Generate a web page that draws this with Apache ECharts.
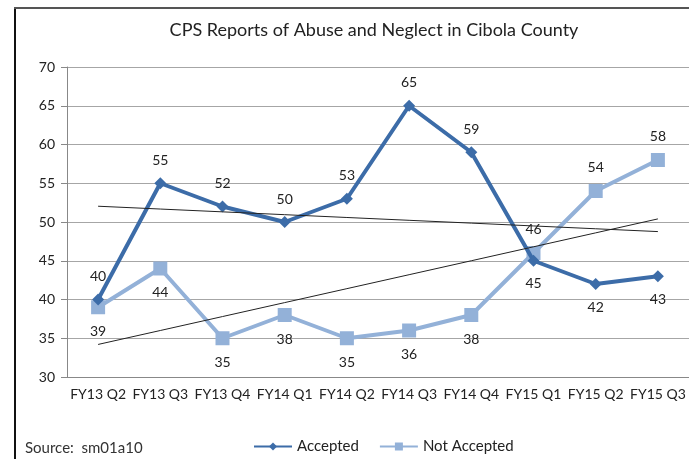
<!DOCTYPE html>
<html>
<head>
<meta charset="utf-8">
<script src="https://cdn.jsdelivr.net/npm/echarts@6/dist/echarts.min.js"></script>
<style>
  html, body { margin: 0; padding: 0; background: #fff; }
  #main { width: 689px; height: 459px; }
</style>
</head>
<body>
<div id="main"></div>
<script>
var quarters = ['FY13 Q2', 'FY13 Q3', 'FY13 Q4', 'FY14 Q1', 'FY14 Q2', 'FY14 Q3', 'FY14 Q4', 'FY15 Q1', 'FY15 Q2', 'FY15 Q3'];
var accepted = [40, 55, 52, 50, 53, 65, 59, 45, 42, 43];
var notAccepted = [39, 44, 35, 38, 35, 36, 38, 46, 54, 58];
// indexes where the label flips side
var acceptedBelow = [7, 8, 9];
var notAcceptedAbove = [7, 8, 9];

// least squares trend, like excel's linear trendline
function trend(arr) {
  var n = arr.length, sx = 0, sy = 0, sxy = 0, sxx = 0;
  for (var i = 0; i < n; i++) {
    sx += i; sy += arr[i]; sxy += i * arr[i]; sxx += i * i;
  }
  var b = (n * sxy - sx * sy) / (n * sxx - sx * sx);
  var a = (sy - b * sx) / n;
  return arr.map(function (v, i) { return +(a + b * i).toFixed(3); });
}

function withLabels(arr, flip, defPos) {
  return arr.map(function (v, i) {
    var pos = flip.indexOf(i) >= 0 ? (defPos === 'top' ? 'bottom' : 'top') : defPos;
    return { value: v, label: { position: pos } };
  });
}

var font = 'Lato, "Open Sans", sans-serif';
var chart = echarts.init(document.getElementById('main'));
var option = {
  animation: false,
  title: {
    text: 'CPS Reports of Abuse and Neglect in Cibola County',
    left: 369, top: 16, textAlign: 'center',
    textStyle: { fontFamily: font, fontSize: 18, fontWeight: 'normal', color: '#222' }
  },
  graphic: [
    { type: 'rect', shape: { x: 14, y: 7, width: 2, height: 460 }, style: { fill: '#111' } },
    { type: 'rect', shape: { x: 14, y: 7, width: 700, height: 2 }, style: { fill: '#555' } },
    { type: 'text', left: 25, top: 441, style: { text: 'Source:  sm01a10', font: '15px ' + font, fill: '#333' } }
  ],
  legend: {
    bottom: 0, left: 248, itemGap: 20, itemWidth: 38, itemHeight: 10,
    textStyle: { fontFamily: font, fontSize: 15, color: '#222' },
    data: ['Accepted', 'Not Accepted']
  },
  grid: { left: 67, right: -8, top: 67, bottom: 82 },
  xAxis: {
    type: 'category', data: quarters, boundaryGap: true,
    axisLine: { lineStyle: { color: '#888' } },
    axisTick: { length: 5, lineStyle: { color: '#888' } },
    axisLabel: { interval: 0, fontFamily: font, fontSize: 14, color: '#222', margin: 10 }
  },
  yAxis: {
    type: 'value', min: 30, max: 70, interval: 5,
    axisLine: { show: true, lineStyle: { color: '#888' } },
    axisTick: { show: true, length: 6, lineStyle: { color: '#888' } },
    axisLabel: { fontFamily: font, fontSize: 14, color: '#222', margin: 12 },
    splitLine: { lineStyle: { color: '#a6a6a6' } }
  },
  series: [
    {
      name: 'Accepted', type: 'line', data: withLabels(accepted, acceptedBelow, 'top'),
      symbol: 'diamond', symbolSize: 12,
      lineStyle: { width: 4, color: '#3c6ca8' }, itemStyle: { color: '#3c6ca8' },
      label: { show: true, distance: 10, fontFamily: font, fontSize: 14, color: '#222' }, z: 3
    },
    {
      name: 'Not Accepted', type: 'line', data: withLabels(notAccepted, notAcceptedAbove, 'bottom'),
      symbol: 'rect', symbolSize: 14,
      lineStyle: { width: 4, color: '#93b1d8' }, itemStyle: { color: '#93b1d8' },
      label: { show: true, distance: 10, fontFamily: font, fontSize: 14, color: '#222' }, z: 2
    },
    {
      name: 'trendA', type: 'line', data: trend(accepted), symbol: 'none',
      lineStyle: { width: 1, color: '#222' }, silent: true, z: 4
    },
    {
      name: 'trendN', type: 'line', data: trend(notAccepted), symbol: 'none',
      lineStyle: { width: 1, color: '#222' }, silent: true, z: 4
    }
  ]
};
chart.setOption(option);
</script>
</body>
</html>
